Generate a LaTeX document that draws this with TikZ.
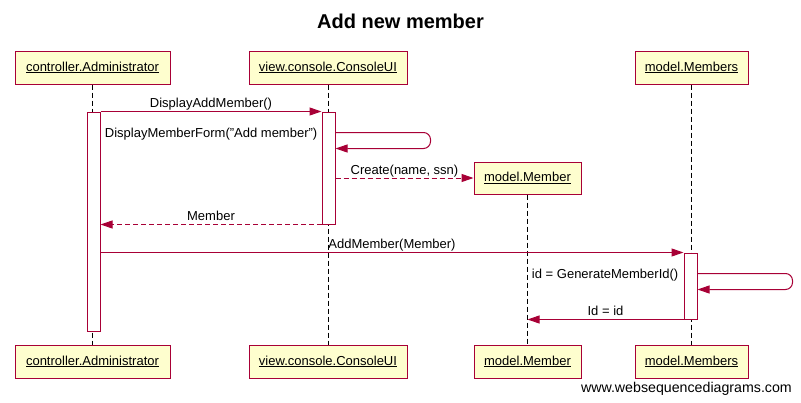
\documentclass[tikz,border=0pt]{standalone}
\usepackage{fontspec}
\setmainfont{Liberation Sans}
\usetikzlibrary{arrows.meta,calc}
\definecolor{wsdred}{HTML}{A80036}
\definecolor{wsdfill}{HTML}{FEFECE}
\tikzset{
  obj/.style={draw=wsdred, fill=wsdfill, line width=1pt, minimum height=33pt, inner sep=0pt, font=\fontsize{13}{15}\selectfont},
  act/.style={draw=wsdred, fill=white, line width=1pt, minimum width=13pt, inner sep=0pt},
  life/.style={black, line width=1pt, dash pattern=on 5pt off 3pt},
  msg/.style={wsdred, line width=1pt, -{Triangle[length=12pt,width=8pt]}},
  ret/.style={msg, dash pattern=on 5pt off 3pt},
  lbl/.style={black, anchor=base, inner sep=0pt, yshift=4pt, font=\fontsize{13}{15}\selectfont},
  slbl/.style={black, anchor=base east, inner sep=0pt, font=\fontsize{13}{15}\selectfont}
}
\begin{document}
\begin{tikzpicture}[x=1pt,y=-1pt]
\useasboundingbox (0,0) rectangle (801,402);
% title
\node[anchor=base, inner sep=0pt, font=\fontsize{20}{24}\selectfont\bfseries] (title) at (400.5,28) {Add new member};
% top objects
\node[obj, minimum width=155pt] (tA) at (92.5,67.5) {\underline{controller.Administrator}};
\node[obj, minimum width=158pt] (tC) at (328,67.5) {\underline{view.console.ConsoleUI}};
\node[obj, minimum width=113pt] (tMs) at (691.5,67.5) {\underline{model.Members}};
% bottom objects
\node[obj, minimum width=155pt] (bA) at (92.5,361.5) {\underline{controller.Administrator}};
\node[obj, minimum width=158pt] (bC) at (328,361.5) {\underline{view.console.ConsoleUI}};
\node[obj, minimum width=107pt] (bM) at (527.5,361.5) {\underline{model.Member}};
\node[obj, minimum width=113pt] (bMs) at (691.5,361.5) {\underline{model.Members}};
% created object
\node[obj, minimum width=107pt, minimum height=32pt] (mM) at (527.5,178) {\underline{model.Member}};
% lifelines
\draw[life] (tA) -- (bA);
\draw[life] (tC) -- (bC);
\draw[life] (mM) -- (bM);
\draw[life] (tMs) -- (bMs);
% activations
\node[act, minimum height=219pt] (aA) at (93.5,221.5) {};
\node[act, minimum height=112pt] (aC) at (328.5,168) {};
\node[act, minimum height=66pt] (aMs) at (690.5,286) {};
% messages
\draw[msg] (aA.north east) -- node[lbl] {DisplayAddMember()} (aC.north west);
\draw[msg, rounded corners=7pt] ([yshift=-21pt]aC.north east) -- ++(95,0) -- ++(0,16) -- ([yshift=-37pt]aC.north east);
\node[slbl] (l2) at ([xshift=-4pt,yshift=-25.5pt]aC.north west) {DisplayMemberForm("Add member")};
\draw[ret] (aC.east |- mM.west) -- node[lbl] {Create(name, ssn)} (mM.west);
\draw[ret] (aC.south west) -- node[lbl] {Member} (aA.east |- aC.south west);
\draw[msg] (aA.east |- aMs.north) -- node[lbl] {AddMember(Member)} (aMs.north west);
\draw[msg, rounded corners=7pt] ([yshift=-21pt]aMs.north east) -- ++(95,0) -- ++(0,16) -- ([yshift=-37pt]aMs.north east);
\node[slbl] (l6) at ([xshift=-5pt,yshift=-25.5pt]aMs.north west) {id = GenerateMemberId()};
\draw[msg] (aMs.south west) -- node[lbl] {Id = id} (mM |- aMs.south west);
% watermark
\node[anchor=base east, inner sep=0pt, font=\fontsize{14.2}{17}\selectfont] (wm) at (792,392) {www.websequencediagrams.com};
\end{tikzpicture}
\end{document}
